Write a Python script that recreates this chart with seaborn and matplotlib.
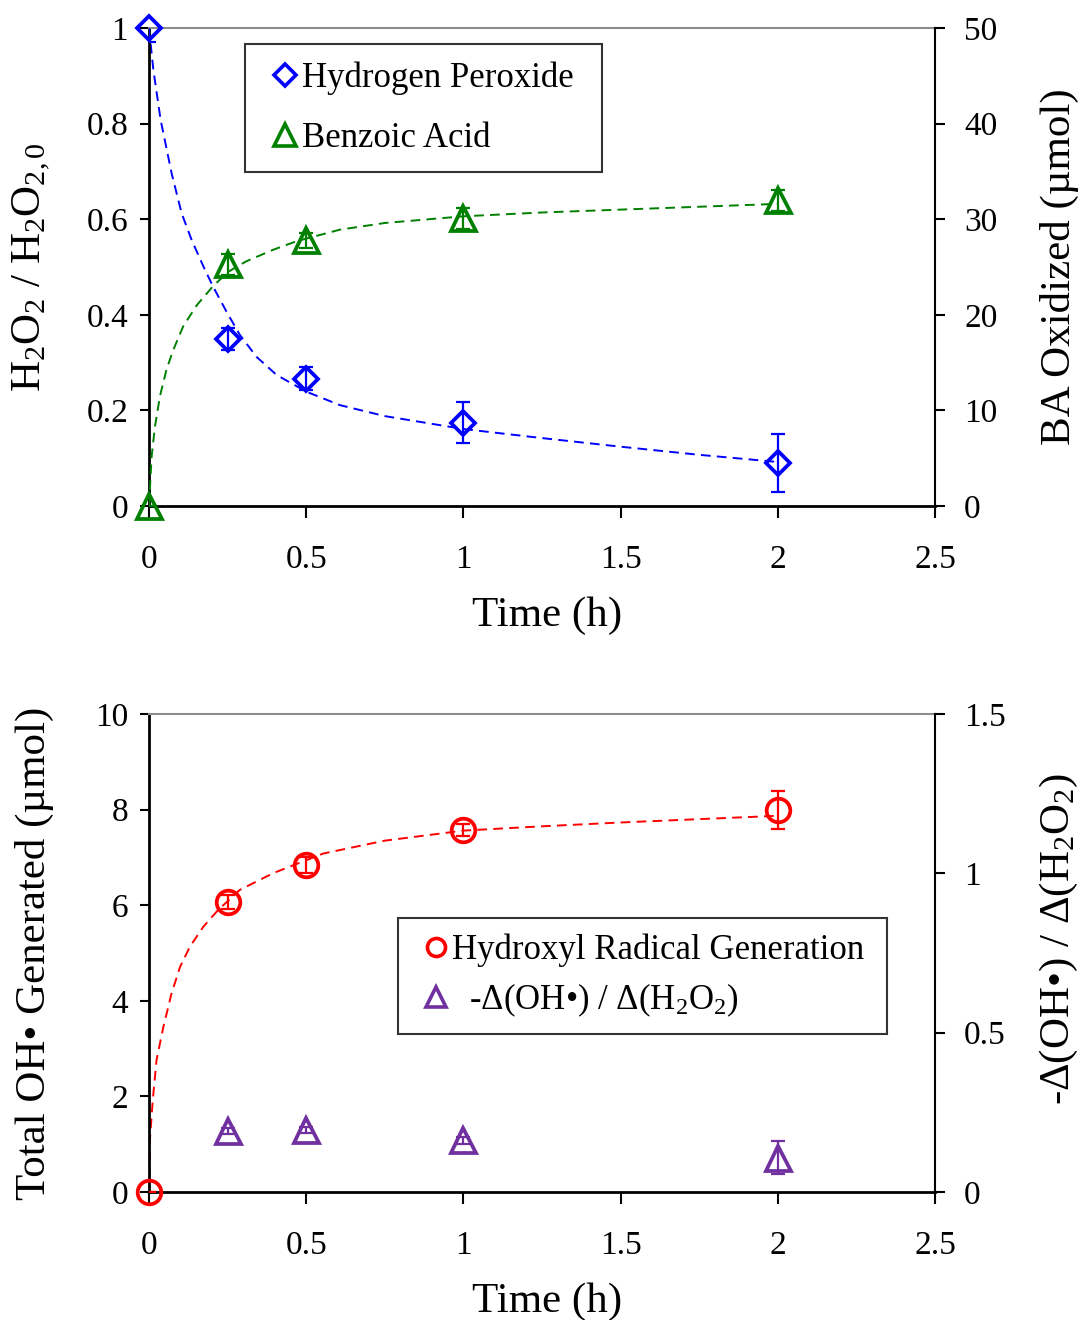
import numpy as np
import matplotlib
matplotlib.use("Agg")
import matplotlib.pyplot as plt
import seaborn as sns
from matplotlib.lines import Line2D
from matplotlib.ticker import FuncFormatter, MultipleLocator

# ---------------- data ----------------
time_pts = [0, 0.25, 0.5, 1.0, 2.0]

h2o2_frac = [1.0, 0.349, 0.266, 0.174, 0.090]
h2o2_err = [0.03, 0.023, 0.024, 0.043, 0.060]

ba_umol = [0.0, 25.3, 27.8, 30.1, 32.0]
ba_err = [0.0, 1.1, 0.8, 1.1, 1.1]

oh_umol = [0.0, 6.07, 6.84, 7.57, 7.99]
oh_err = [0.0, 0.15, 0.17, 0.13, 0.39]

ratio_t = [0.25, 0.5, 1.0, 2.0]
ratio = [0.191, 0.194, 0.162, 0.107]
ratio_err = [0.01, 0.01, 0.01, 0.052]

# fitted trend curves
h2o2_fit_t = [0, 0.014, 0.037, 0.072, 0.104, 0.136, 0.178, 0.207, 0.247, 0.289,
              0.342, 0.406, 0.501, 0.607, 0.75, 1.0, 1.25, 1.5, 1.75, 2.0]
h2o2_fit = [1.0, 0.912, 0.808, 0.696, 0.612, 0.556, 0.494, 0.455, 0.406, 0.358,
            0.312, 0.274, 0.239, 0.211, 0.188, 0.161, 0.142, 0.124, 0.107, 0.092]

ba_fit_t = [0, 0.0085, 0.019, 0.035, 0.056, 0.077, 0.109, 0.152, 0.204, 0.252,
            0.31, 0.395, 0.47, 0.607, 0.75, 1.0, 1.25, 1.5, 1.75, 2.0]
ba_fit = [0, 5.2, 8.3, 11.5, 14.3, 16.3, 18.8, 21.0, 23.0, 24.5,
          25.6, 26.8, 27.7, 28.9, 29.6, 30.3, 30.7, 31.0, 31.3, 31.6]

oh_fit_t = [0, 0.003, 0.012, 0.024, 0.046, 0.072, 0.099, 0.13, 0.173, 0.22,
            0.289, 0.395, 0.554, 0.75, 1.0, 1.25, 1.5, 1.75, 2.0]
oh_fit = [0, 1.09, 1.92, 2.76, 3.46, 4.16, 4.71, 5.13, 5.55, 5.90,
          6.32, 6.67, 7.08, 7.35, 7.56, 7.65, 7.73, 7.80, 7.87]

x_ticks = [0, 0.5, 1, 1.5, 2, 2.5]

# ---------------- style ----------------
sns.set_theme(style="white")
plt.rcParams['font.family'] = ['Liberation Serif', 'DejaVu Serif']
plt.rcParams['mathtext.fontset'] = 'custom'
plt.rcParams['mathtext.rm'] = 'Liberation Serif'
plt.rcParams['mathtext.it'] = 'Liberation Serif:italic'
plt.rcParams['mathtext.bf'] = 'Liberation Serif:bold'
for k in ['text.color', 'axes.labelcolor', 'xtick.color', 'ytick.color', 'axes.edgecolor']:
    plt.rcParams[k] = 'black'

BLUE = '#0000FF'
GREEN = '#008000'
RED = '#FF0000'
PURPLE = '#7030A0'

TICK_FS = 24
LABEL_FS = 31
LEG_FS = 25
MEW = 2.7

fig = plt.figure(figsize=(10.78, 13.2), dpi=100)
ax1 = fig.add_axes([0.1382, 0.6167, 0.7291, 0.3621])
ax3 = fig.add_axes([0.1382, 0.0970, 0.7291, 0.3621])
ax2 = ax1.twinx()
ax4 = ax3.twinx()

fmt = FuncFormatter(lambda v, p: f"{v:g}")


def style_axes(axl, axr, ylim_l, step_l, ylim_r, step_r):
    for a in (axl, axr):
        a.set_xlim(0, 2.5)
        a.set_facecolor('none')
    axl.set_facecolor('white')
    axl.set_ylim(*ylim_l)
    axr.set_ylim(*ylim_r)
    axl.yaxis.set_major_locator(MultipleLocator(step_l))
    axr.yaxis.set_major_locator(MultipleLocator(step_r))
    axl.set_xticks(x_ticks)
    axl.xaxis.set_major_formatter(fmt)
    axl.yaxis.set_major_formatter(fmt)
    axr.yaxis.set_major_formatter(fmt)
    axl.spines['left'].set_color('black')
    axl.spines['left'].set_linewidth(2.0)
    axl.spines['bottom'].set_color('black')
    axl.spines['bottom'].set_linewidth(2.0)
    axl.spines['top'].set_color('#8c8c8c')
    axl.spines['top'].set_linewidth(1.5)
    axl.spines['right'].set_visible(False)
    axr.spines['left'].set_visible(False)
    axr.spines['bottom'].set_visible(False)
    axr.spines['top'].set_visible(False)
    axr.spines['right'].set_color('black')
    axr.spines['right'].set_linewidth(1.5)
    axl.tick_params(axis='x', direction='out', length=8.5, width=1.5, color='black',
                    labelcolor='black', labelsize=TICK_FS, pad=19, bottom=True, top=False)
    axl.tick_params(axis='y', direction='out', length=6.5, width=1.5, color='black',
                    labelcolor='black', labelsize=TICK_FS, pad=8.5, left=True, right=False)
    axr.tick_params(axis='y', direction='out', length=7, width=1.5, color='black',
                    labelcolor='black', labelsize=TICK_FS, pad=14, right=True, left=False)
    axr.tick_params(axis='x', bottom=False, top=False, labelbottom=False)
    axl.grid(False)
    axr.grid(False)


style_axes(ax1, ax2, (0, 1), 0.2, (0, 50), 10)
style_axes(ax3, ax4, (0, 10), 2, (0, 1.5), 0.5)

DASH = (0, (5, 3.2))


def curve(ax, t, y, color):
    sns.lineplot(x=t, y=y, ax=ax, color=color, lw=1.4, linestyle='--',
                 sort=False, estimator=None, legend=False)
    ax.get_lines()[-1].set_linestyle(DASH)


def points(ax, t, y, e, color, marker, ms):
    ax.errorbar(t, y, yerr=e, fmt='none', ecolor=color,
                elinewidth=1.6, capsize=5, capthick=1.6, zorder=4)
    sns.lineplot(x=t, y=y, ax=ax, marker=marker, linestyle='', markersize=ms,
                 markerfacecolor='none', markeredgecolor=color, markeredgewidth=MEW,
                 color=color, estimator=None, legend=False, clip_on=False, zorder=5)


# top panel
curve(ax1, h2o2_fit_t, h2o2_fit, BLUE)
points(ax1, time_pts, h2o2_frac, h2o2_err, BLUE, 'D', 12.5)
curve(ax2, ba_fit_t, ba_fit, GREEN)
points(ax2, time_pts, ba_umol, ba_err, GREEN, '^', 18)

# bottom panel
curve(ax3, oh_fit_t, oh_fit, RED)
points(ax3, time_pts, oh_umol, oh_err, RED, 'o', 17)
points(ax4, ratio_t, ratio, ratio_err, PURPLE, '^', 18)

for a in (ax1, ax2, ax3, ax4):
    a.set_xlim(0, 2.5)
ax1.set_ylim(0, 1)
ax2.set_ylim(0, 50)
ax3.set_ylim(0, 10)
ax4.set_ylim(0, 1.5)

# labels
ax1.set_ylabel('H$_2$O$_2$ / H$_2$O$_{2,0}$', fontsize=LABEL_FS, va='center')
ax1.yaxis.set_label_coords(-0.149, 0.5)
ax2.set_ylabel('BA Oxidized (\u00b5mol)', fontsize=LABEL_FS, va='center', rotation=90)
ax2.yaxis.set_label_coords(1.158, 0.5)
ax1.set_xlabel('Time (h)', fontsize=LABEL_FS, va='center')
ax1.xaxis.set_label_coords(0.507, -0.23)

ax3.set_ylabel('Total OH\u2022 Generated (\u00b5mol)', fontsize=LABEL_FS, va='center')
ax3.yaxis.set_label_coords(-0.146, 0.5)
ax4.set_ylabel('-\u0394(OH\u2022) / \u0394(H$_2$O$_2$)', fontsize=LABEL_FS, va='center', rotation=90)
ax4.yaxis.set_label_coords(1.158, 0.53)
ax3.set_xlabel('Time (h)', fontsize=LABEL_FS, va='center')
ax3.xaxis.set_label_coords(0.507, -0.23)


# legends
def mk(marker, color, ms):
    return Line2D([], [], marker=marker, linestyle='', markersize=ms,
                  markerfacecolor='none', markeredgecolor=color, markeredgewidth=2.6)


leg1 = ax2.legend([mk('D', BLUE, 11.5), mk('^', GREEN, 16)],
                  ['Hydrogen Peroxide', 'Benzoic Acid'],
                  loc='upper left', bbox_to_anchor=(0.122, 0.5, 0.4542, 0.4665),
                  mode='expand', borderaxespad=0,
                  fontsize=LEG_FS, frameon=True, fancybox=False, edgecolor='black',
                  handlelength=1.3, handletextpad=-0.16, borderpad=0.5,
                  labelspacing=0.78)
leg1.get_frame().set_linewidth(1.5)
leg1.get_frame().set_facecolor('white')

leg2 = ax4.legend([mk('o', RED, 13), mk('^', PURPLE, 14)],
                  ['Hydroxyl Radical Generation', '  -\u0394(OH\u2022) / \u0394(H$_2$O$_2$)'],
                  loc='upper left', bbox_to_anchor=(0.3168, 0.0, 0.6221, 0.573),
                  mode='expand', borderaxespad=0,
                  fontsize=LEG_FS, frameon=True, fancybox=False, edgecolor='black',
                  handlelength=1.3, handletextpad=-0.2, borderpad=0.45,
                  labelspacing=0.41)
leg2.get_frame().set_linewidth(1.5)
leg2.get_frame().set_facecolor('white')

fig.savefig('out.png', dpi=100, facecolor='white')
